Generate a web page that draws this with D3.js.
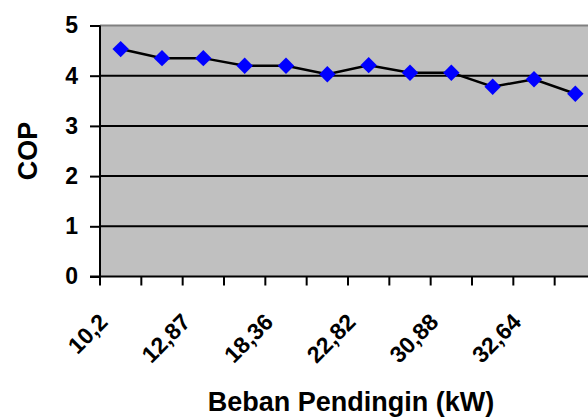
<!DOCTYPE html>
<html>
<head>
<meta charset="utf-8">
<script src="https://cdn.jsdelivr.net/npm/d3@7"></script>
<style>
  html, body { margin: 0; padding: 0; background: #fff; }
  svg { display: block; font-family: "Liberation Sans", Arial, sans-serif; font-weight: bold; }
</style>
</head>
<body>
<div id="chart"></div>
<script>
// categories (every other label is hidden on the axis, hidden ones estimated)
const categories = ['10,2', '11,5', '12,87', '15,6', '18,36', '20,6', '22,82', '26,8', '30,88', '31,8', '32,64', '34,5']
const cop = [4.53, 4.35, 4.35, 4.2, 4.2, 4.03, 4.21, 4.06, 4.06, 3.78, 3.93, 3.64]
const yTicks = [0, 1, 2, 3, 4, 5]

const width = 588
const height = 420
const margin = { top: 25.5, left: 100, bottom: 143.5 }
const plotW = 496 // plot runs past the right edge of the picture
const plotH = height - margin.top - margin.bottom

const svg = d3.select('#chart')
  .append('svg')
    .attr('width', width)
    .attr('height', height)

const x = d3.scaleBand()
  .domain(categories)
  .range([margin.left, margin.left + plotW])

const y = d3.scaleLinear()
  .domain([0, 5])
  .range([margin.top + plotH, margin.top])

// plot area
svg.append('rect')
  .attr('x', margin.left)
  .attr('y', margin.top)
  .attr('width', plotW)
  .attr('height', plotH)
  .attr('fill', '#c0c0c0')

svg.append('line')
  .attr('x1', margin.left).attr('x2', margin.left + plotW)
  .attr('y1', y(5)).attr('y2', y(5))
  .attr('stroke', '#808080')
  .attr('stroke-width', 2)

// gridlines
svg.append('g')
  .selectAll('line')
  .data(yTicks.filter(d => d > 0 && d < 5))
  .join('line')
    .attr('x1', margin.left).attr('x2', margin.left + plotW)
    .attr('y1', d => y(d)).attr('y2', d => y(d))
    .attr('stroke', '#000')
    .attr('stroke-width', 2)

// y axis
const yAxis = svg.append('g')
  .attr('transform', `translate(${margin.left},0)`)
  .call(d3.axisLeft(y).tickValues(yTicks).tickSize(10).tickPadding(12).tickFormat(d3.format('d')))
yAxis.select('.domain').attr('stroke-width', 2).attr('d', `M0,${y(0)}V${y(5)}`)
yAxis.selectAll('.tick line').attr('stroke-width', 2)
yAxis.selectAll('.tick text')
  .attr('font-size', 23)
  .attr('font-family', '"Liberation Sans", Arial, sans-serif')
  .attr('font-weight', 'bold')
  .attr('fill', '#000')

// x axis, ticks on category boundaries
const xAxis = svg.append('g')
  .attr('transform', `translate(0,${y(0)})`)
xAxis.append('line')
  .attr('x1', margin.left - 10).attr('x2', margin.left + plotW)
  .attr('stroke', '#000')
  .attr('stroke-width', 2)
xAxis.selectAll('.xtick')
  .data(categories)
  .join('line')
    .attr('class', 'xtick')
    .attr('x1', d => x(d)).attr('x2', d => x(d))
    .attr('y1', 0).attr('y2', 9)
    .attr('stroke', '#000')
    .attr('stroke-width', 2)
xAxis.selectAll('.xlabel')
  .data(categories.filter((d, i) => i % 2 === 0))
  .join('text')
    .attr('class', 'xlabel')
    .attr('transform', d => `translate(${x(d) + x.bandwidth() / 2 - 11.5},47) rotate(-45)`)
    .attr('text-anchor', 'end')
    .attr('font-size', 23)
    .attr('fill', '#000')
    .text(d => d)

// line + markers
const line = d3.line()
  .x((d, i) => x(categories[i]) + x.bandwidth() / 2)
  .y(d => y(d))

svg.append('path')
  .datum(cop)
  .attr('d', line)
  .attr('fill', 'none')
  .attr('stroke', '#000')
  .attr('stroke-width', 2.5)

svg.append('g')
  .selectAll('path')
  .data(cop)
  .join('path')
    .attr('d', d3.symbol(d3.symbolSquare, 135))
    .attr('transform', (d, i) => `translate(${x(categories[i]) + x.bandwidth() / 2},${y(d)}) rotate(45)`)
    .attr('fill', '#0000ff')

// axis titles
svg.append('text')
  .attr('transform', `translate(37,${margin.top + plotH / 2}) rotate(-90)`)
  .attr('text-anchor', 'middle')
  .attr('font-size', 27)
  .text('COP')

svg.append('text')
  .attr('x', 351)
  .attr('y', 410.5)
  .attr('text-anchor', 'middle')
  .attr('font-size', 27)
  .text('Beban Pendingin (kW)')
</script>
</body>
</html>
